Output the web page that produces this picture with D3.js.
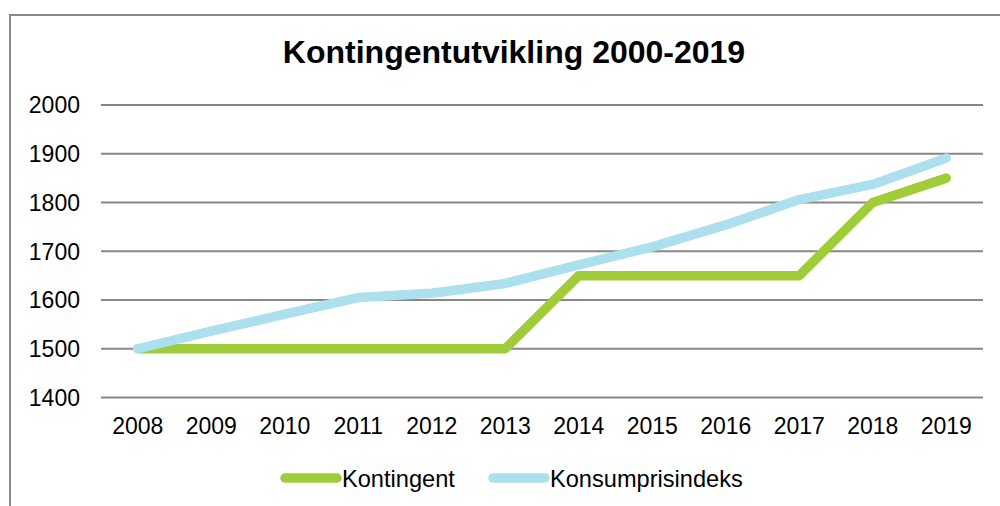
<!DOCTYPE html>
<html lang="no">
<head>
    <meta charset="UTF-8">
    <title>Kontingentutvikling 2000-2019</title>
    <script src="https://d3js.org/d3.v7.min.js"></script>
    <style>
        body { margin: 0; background: #fff; }
        text {
            font-family: "Liberation Sans", Arial, sans-serif;
            fill: black;
        }
    </style>
</head>
<body>
<script>
    const width = 1000;
    const height = 506;

    const years = ["2008", "2009", "2010", "2011", "2012", "2013", "2014", "2015", "2016", "2017", "2018", "2019"];
    const kontingent = [1500, 1500, 1500, 1500, 1500, 1500, 1650, 1650, 1650, 1650, 1800, 1850];
    const konsumprisindeks = [1500, 1536, 1571, 1605, 1614, 1634, 1672, 1709, 1754, 1806, 1837, 1891];
    const yTicks = [1400, 1500, 1600, 1700, 1800, 1900, 2000];

    const series = [
        {name: "Kontingent", values: kontingent, color: "#a0cc3a"},
        {name: "Konsumprisindeks", values: konsumprisindeks, color: "#ade0ee"}
    ];

    const svg = d3.select("body").append("svg")
            .attr("width", width).attr("height", height);

    // chart frame
    svg.append("rect")
            .attr("x", 10).attr("y", 15)
            .attr("width", 1100).attr("height", 600)
            .style("fill", "none")
            .style("stroke", "#888")
            .style("stroke-width", 2);

    const x = d3.scaleBand().domain(years).range([101, 983]);
    const y = d3.scaleLinear().domain([1400, 2000]).range([397.5, 105]);

    // gridlines
    svg.append("g")
            .selectAll("line")
            .data(yTicks)
            .enter()
            .append("line")
            .attr("x1", 101).attr("x2", 983)
            .attr("y1", d => y(d)).attr("y2", d => y(d))
            .style("stroke", "#878787")
            .style("stroke-width", 2);

    svg.append("g")
            .selectAll("text")
            .data(yTicks)
            .enter()
            .append("text")
            .attr("x", 80)
            .attr("y", d => y(d))
            .attr("dy", "0.36em")
            .attr("text-anchor", "end")
            .style("font-size", "23px")
            .text(d => d);

    svg.append("g")
            .selectAll("text")
            .data(years)
            .enter()
            .append("text")
            .attr("x", d => x(d) + x.bandwidth() / 2)
            .attr("y", 434)
            .attr("text-anchor", "middle")
            .style("font-size", "23px")
            .text(d => d);

    const line = d3.line()
            .x((d, i) => x(years[i]) + x.bandwidth() / 2)
            .y(d => y(d));

    svg.append("g")
            .selectAll("path")
            .data(series)
            .enter()
            .append("path")
            .attr("d", d => line(d.values))
            .style("fill", "none")
            .style("stroke", d => d.color)
            .style("stroke-width", 9.5)
            .style("stroke-linecap", "round")
            .style("stroke-linejoin", "round");

    svg.append("text")
            .attr("x", 514)
            .attr("y", 63)
            .attr("text-anchor", "middle")
            .style("font-size", "32px")
            .style("font-weight", "bold")
            .text("Kontingentutvikling 2000-2019");

    // legend
    const legendX = [281, 489];
    const legend = svg.append("g")
            .selectAll("g")
            .data(series)
            .enter()
            .append("g")
            .attr("transform", (d, i) => `translate(${legendX[i]},478)`);

    legend.append("line")
            .attr("x1", 4).attr("x2", 56)
            .style("stroke", d => d.color)
            .style("stroke-width", 9.5)
            .style("stroke-linecap", "round");

    legend.append("text")
            .attr("x", 61)
            .attr("dy", "0.36em")
            .style("font-size", "23.6px")
            .text(d => d.name);
</script>
</body>
</html>
